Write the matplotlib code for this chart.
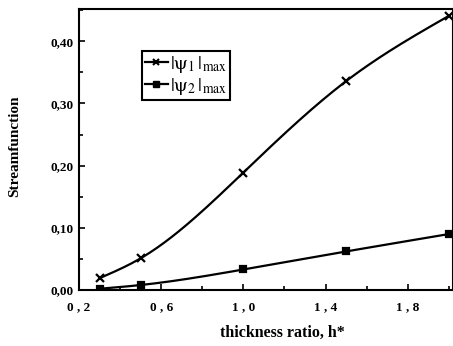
import numpy as np
import matplotlib
matplotlib.use("Agg")
import matplotlib.pyplot as plt
from matplotlib.ticker import MultipleLocator, FuncFormatter

# thickness ratio h* and maximum streamfunction magnitudes
h_ratio = [0.3, 0.5, 1.0, 1.5, 2.0]
psi1_max = [0.019, 0.051, 0.189, 0.336, 0.441]
psi2_max = [0.002, 0.008, 0.033, 0.062, 0.090]

x_ticks = [0.2, 0.6, 1.0, 1.4, 1.8]
y_ticks = [0.0, 0.1, 0.2, 0.3, 0.4]

plt.rcParams["font.family"] = ["Liberation Serif", "DejaVu Serif"]
plt.rcParams["mathtext.fontset"] = "stix"


def smooth(xs, ys, n=200):
    """Natural cubic spline through the points, for drawing a smooth line."""
    x = np.asarray(xs, float)
    y = np.asarray(ys, float)
    k = len(x)
    h = np.diff(x)
    A = np.zeros((k, k))
    b = np.zeros(k)
    A[0, 0] = A[-1, -1] = 1.0
    for i in range(1, k - 1):
        A[i, i - 1] = h[i - 1]
        A[i, i] = 2 * (h[i - 1] + h[i])
        A[i, i + 1] = h[i]
        b[i] = 6 * ((y[i + 1] - y[i]) / h[i] - (y[i] - y[i - 1]) / h[i - 1])
    M = np.linalg.solve(A, b)
    xx = np.linspace(x[0], x[-1], n)
    idx = np.clip(np.searchsorted(x, xx) - 1, 0, k - 2)
    x0, x1 = x[idx], x[idx + 1]
    hh = x1 - x0
    t0, t1 = x1 - xx, xx - x0
    yy = (M[idx] * t0 ** 3 / (6 * hh) + M[idx + 1] * t1 ** 3 / (6 * hh)
          + (y[idx] / hh - M[idx] * hh / 6) * t0
          + (y[idx + 1] / hh - M[idx + 1] * hh / 6) * t1)
    return xx, yy


fig = plt.figure(figsize=(4.53, 3.46), dpi=100)
ax = fig.add_axes([79 / 453, 1 - 290 / 346, 374 / 453, 281 / 346])

for ys, mk, ms in ((psi1_max, "x", 6), (psi2_max, "s", 5)):
    sx, sy = smooth(h_ratio, ys)
    ax.plot(sx, sy, color="black", lw=1.6, zorder=2)
    ax.plot(h_ratio, ys, linestyle="none", marker=mk, ms=ms, mew=1.6,
            color="black", zorder=3)

# legend entries
h1, = ax.plot([], [], color="black", lw=1.6, marker="x", ms=5, mew=1.5)
h2, = ax.plot([], [], color="black", lw=1.6, marker="s", ms=4)
leg = ax.legend([h1, h2],
                [r"$|\mathrm{\psi}_1\,|_{\mathrm{max}}$",
                 r"$|\mathrm{\psi}_2\,|_{\mathrm{max}}$"],
                loc="upper left", bbox_to_anchor=(0.168, 0.85),
                frameon=True, fancybox=False, framealpha=1, edgecolor="black",
                fontsize=14, handlelength=1.2, handletextpad=0.1,
                borderpad=0.15, labelspacing=0.05, borderaxespad=0)
leg.get_frame().set_linewidth(1.5)

ax.set_xlim(0.2, 2.02)
ax.set_ylim(0.0, 0.452)
ax.set_xticks(x_ticks)
ax.set_yticks(y_ticks)
ax.xaxis.set_minor_locator(MultipleLocator(0.2))
ax.yaxis.set_minor_locator(MultipleLocator(0.05))
ax.xaxis.set_major_formatter(FuncFormatter(lambda v, p: f"{v:.1f}".replace(".", " , ")))
ax.yaxis.set_major_formatter(FuncFormatter(lambda v, p: f"{v:.2f}".replace(".", ",")))
ax.tick_params(which="both", direction="in", top=False, right=False,
               labelsize=9.5, width=1.2)
ax.tick_params(which="major", length=4)
ax.tick_params(which="minor", length=3)
for lab in ax.get_xticklabels() + ax.get_yticklabels():
    lab.set_fontweight("bold")
ax.tick_params(axis="x", pad=8)
ax.tick_params(axis="y", pad=4)
for s in ax.spines.values():
    s.set_linewidth(1.5)

ax.set_xlabel("thickness ratio, h*", fontsize=11.5, fontweight="bold")
ax.xaxis.set_label_coords((282 - 79) / 374, -(333 - 290) / 281, transform=ax.transAxes)
ax.xaxis.label.set_va("center")
ax.set_ylabel("Streamfunction", fontsize=11, fontweight="bold")
ax.yaxis.set_label_coords(-(79 - 15) / 374, (290 - 146) / 281, transform=ax.transAxes)
ax.yaxis.label.set_va("center")

fig.savefig("out.png", dpi=100)
